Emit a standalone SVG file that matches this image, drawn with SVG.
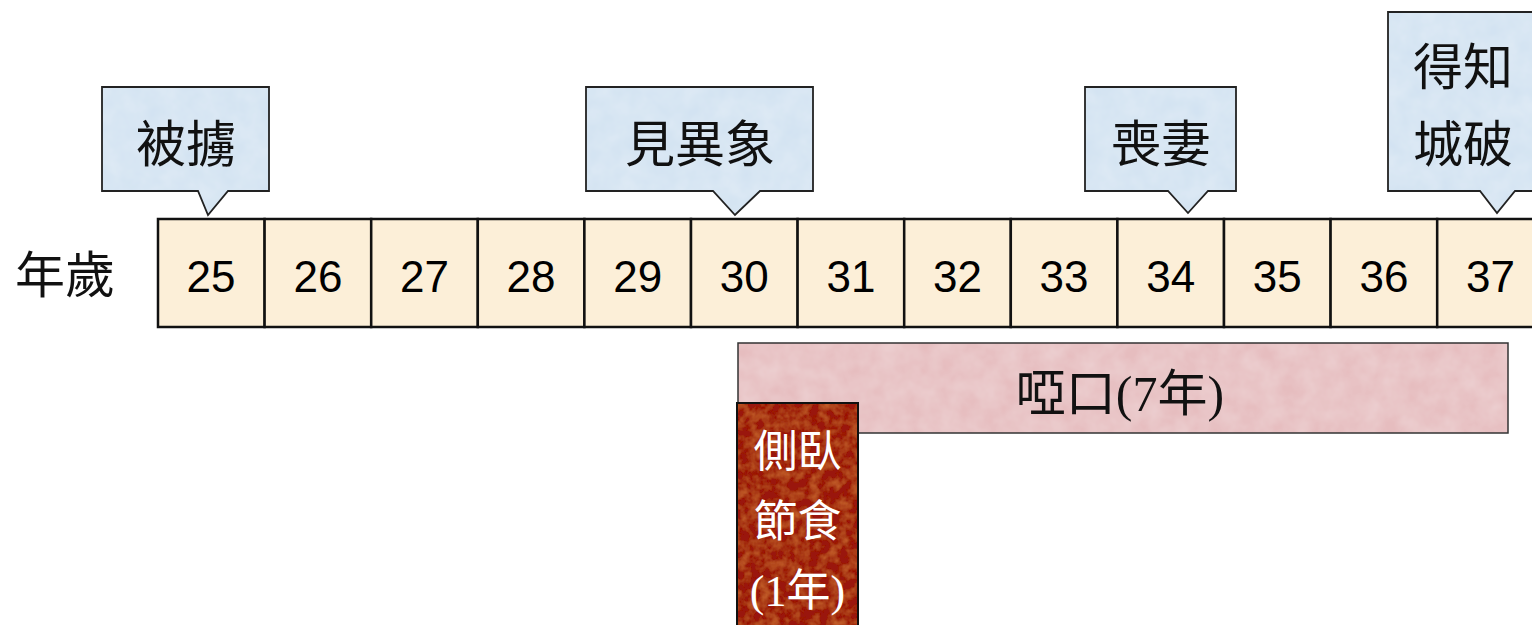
<svg xmlns="http://www.w3.org/2000/svg" width="1532" height="625" viewBox="0 0 1532 625">
<defs>
<style>
.cell{fill:#fcefd8;stroke:#111;stroke-width:2.5}
.num{font-family:"Liberation Sans",Arial,sans-serif;font-size:44px;fill:#000;text-anchor:middle}
.callfill{fill:#d3e3f2}
.line{fill:none;stroke:#222;stroke-width:1.8}
.cjk{font-family:"Liberation Serif","Noto Sans CJK TC",serif;font-size:50px;fill:#111;text-anchor:middle}
.wht{fill:#fff;font-size:44px}
</style>
<filter id="mottle" x="0" y="0" width="100%" height="100%">
<feTurbulence type="fractalNoise" baseFrequency="0.05" numOctaves="3" seed="3" result="n"/>
<feColorMatrix in="n" type="matrix" values="0 0 0 0 1  0 0 0 0 1  0 0 0 0 1  0 0 0 0.3 -0.05" result="w"/>
<feComposite in="w" in2="SourceGraphic" operator="in" result="wm"/>
<feMerge><feMergeNode in="SourceGraphic"/><feMergeNode in="wm"/></feMerge>
</filter>
<filter id="redtex" x="0" y="0" width="100%" height="100%">
<feTurbulence type="fractalNoise" baseFrequency="0.1" numOctaves="3" seed="7" result="n"/>
<feColorMatrix in="n" type="matrix" values="0 0 0 0 0.85  0 0 0 0 0.25  0 0 0 0 0.05  0 0 0 0.8 -0.3" result="w"/>
<feComposite in="w" in2="SourceGraphic" operator="in" result="wm"/>
<feMerge><feMergeNode in="SourceGraphic"/><feMergeNode in="wm"/></feMerge>
</filter>
</defs>
<rect width="1532" height="625" fill="#fff"/>

<g id="label-age">
<text class="cjk" x="65" y="293">年歲</text>
</g>

<g id="timeline">
<g id="c25"><rect class="cell" x="158" y="219" width="106.6" height="108"/><text class="num" x="211" y="292">25</text></g>
<g id="c26"><rect class="cell" x="264.6" y="219" width="106.6" height="108"/><text class="num" x="318" y="292">26</text></g>
<g id="c27"><rect class="cell" x="371.2" y="219" width="106.6" height="108"/><text class="num" x="424.5" y="292">27</text></g>
<g id="c28"><rect class="cell" x="477.8" y="219" width="106.6" height="108"/><text class="num" x="531" y="292">28</text></g>
<g id="c29"><rect class="cell" x="584.4" y="219" width="106.6" height="108"/><text class="num" x="637.7" y="292">29</text></g>
<g id="c30"><rect class="cell" x="691" y="219" width="106.6" height="108"/><text class="num" x="744.3" y="292">30</text></g>
<g id="c31"><rect class="cell" x="797.6" y="219" width="106.6" height="108"/><text class="num" x="851" y="292">31</text></g>
<g id="c32"><rect class="cell" x="904.2" y="219" width="106.6" height="108"/><text class="num" x="957.5" y="292">32</text></g>
<g id="c33"><rect class="cell" x="1010.8" y="219" width="106.6" height="108"/><text class="num" x="1064" y="292">33</text></g>
<g id="c34"><rect class="cell" x="1117.4" y="219" width="106.6" height="108"/><text class="num" x="1170.7" y="292">34</text></g>
<g id="c35"><rect class="cell" x="1224" y="219" width="106.6" height="108"/><text class="num" x="1277.3" y="292">35</text></g>
<g id="c36"><rect class="cell" x="1330.6" y="219" width="106.6" height="108"/><text class="num" x="1384" y="292">36</text></g>
<g id="c37"><rect class="cell" x="1437.2" y="219" width="106.6" height="108"/><text class="num" x="1490.5" y="292">37</text></g>
</g>

<g id="connectors"></g>

<g id="callout-beilu">
<path class="callfill" filter="url(#mottle)" d="M102,87 H269 V191 H228 L208,215 L198,191 H102 Z"/>
<path class="line" d="M102,87 H269 V191 H228 L208,215 L198,191 H102 Z"/>
<text class="cjk" x="186" y="162">被擄</text>
</g>
<g id="callout-jianyixiang">
<path class="callfill" filter="url(#mottle)" d="M586,87 H813 V191 H760 L735,215 L713,191 H586 Z"/>
<path class="line" d="M586,87 H813 V191 H760 L735,215 L713,191 H586 Z"/>
<text class="cjk" x="700" y="162">見異象</text>
</g>
<g id="callout-sangqi">
<path class="callfill" filter="url(#mottle)" d="M1085,87 H1236 V191 H1208 L1188,213 L1168,191 H1085 Z"/>
<path class="line" d="M1085,87 H1236 V191 H1208 L1188,213 L1168,191 H1085 Z"/>
<text class="cjk" x="1161" y="162">喪妻</text>
</g>
<g id="callout-dezhichengpo">
<path class="callfill" filter="url(#mottle)" d="M1388,12 H1540 V191 H1515 L1497,213 L1480,191 H1388 Z"/>
<path class="line" d="M1388,12 H1540 V191 H1515 L1497,213 L1480,191 H1388 Z"/>
<text class="cjk" x="1463" y="85">得知</text>
<text class="cjk" x="1463" y="162">城破</text>
</g>

<g id="bar-yakou">
<rect x="738" y="343" width="770" height="90" fill="#e6bdbf" filter="url(#mottle)"/>
<rect x="738" y="343" width="770" height="90" fill="none" stroke="#333" stroke-width="1.5"/>
<text class="cjk" x="1120" y="411">啞口(7年)</text>
</g>
<g id="bar-cewo">
<rect x="737" y="403" width="121" height="230" fill="#9a1808" filter="url(#redtex)"/>
<rect x="737" y="403" width="121" height="230" fill="none" stroke="#111" stroke-width="2"/>
<text class="cjk wht" x="797.5" y="467">側臥</text>
<text class="cjk wht" x="797.5" y="537">節食</text>
<text class="cjk wht" x="797.5" y="606">(1年)</text>
</g>
</svg>
